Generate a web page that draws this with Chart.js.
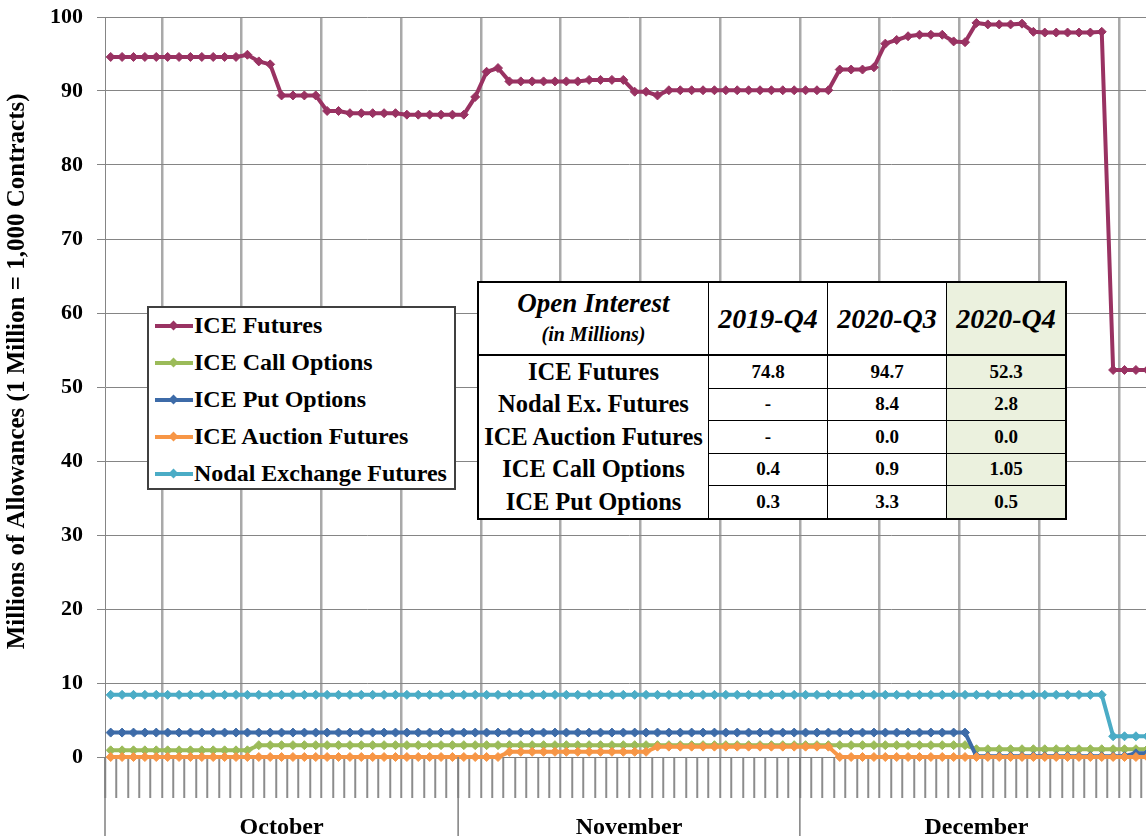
<!DOCTYPE html>
<html>
<head>
<meta charset="utf-8">
<script src="https://cdn.jsdelivr.net/npm/chart.js@4.4.1/dist/chart.umd.min.js"></script>
<style>
  html, body { margin: 0; padding: 0; background: #fff; }
  #wrap { position: relative; width: 1146px; height: 836px; overflow: hidden; }
  #wrap canvas { position: absolute; left: 0; top: 0; }
  #legend {
    position: absolute; left: 147px; top: 306px; width: 305px; height: 180px;
    border: 2px solid #404040; background: #fff;
    font: bold 24px "Liberation Serif", serif; color: #000;
  }
  #legend .item { display: flex; align-items: center; height: 37px; margin-top: -1px; margin-bottom: 1px; }
  #legend .sw { position: relative; width: 38px; height: 4px; margin: 0 1px 0 6px; }
  #legend .sw::after {
    content: ""; position: absolute; left: 15px; top: -2px; width: 7px; height: 7px;
    background: inherit; transform: rotate(45deg);
  }
  #oi {
    position: absolute; left: 477px; top: 281px; border-collapse: collapse;
    background: #fff; border: 2px solid #000; font-family: "Liberation Serif", serif;
    font-weight: bold; color: #000;
  }
  #oi td, #oi th { padding: 0; text-align: center; border-left: 1.5px solid #000; }
  #oi th { height: 71px; border-bottom: 2px solid #000; font-style: italic; font-size: 28px; }
  #oi th.first { width: 229px; font-size: 27px; line-height: 29px; }
  #oi th.first small { font-size: 20px; }
  #oi th.val { width: 118px; }
  #oi td { height: 31.5px; font-size: 19px; border-top: 1px solid #000; }
  #oi td.lab { font-size: 24.5px; border-top: none; }
  #oi tr.r1 td { border-top: none; }
  #oi .q4 { background: #ebf1de; }
</style>
</head>
<body>
<div id="wrap">
  <canvas id="chart" width="1160" height="836"></canvas>
  <div id="legend"></div>
  <table id="oi"></table>
</div>
<script>
// Categories: one per calendar day, Oct 1 - Dec 31
const months = ["October", "November", "December"];
const monthDays = [31, 30, 31];
const monthShort = ["Oct", "Nov", "Dec"];

const seriesNames = ["ICE Futures", "ICE Call Options", "ICE Put Options", "ICE Auction Futures", "Nodal Exchange Futures"];
const seriesColors = ["#993262", "#9bbb59", "#3d6ba8", "#f79646", "#4bacc6"];

// ICE Futures (millions)
const iceFutures = [
  // October
  94.6, 94.6, 94.6, 94.6, 94.6, 94.6, 94.6, 94.6, 94.6, 94.6, 94.6, 94.6, 94.9, 94.0, 93.6, 89.4,
  89.4, 89.4, 89.4, 87.3, 87.3, 87.0, 87.0, 87.0, 87.0, 87.0, 86.8, 86.8, 86.8, 86.8, 86.8,
  // November
  86.8, 89.2, 92.6, 93.1, 91.3, 91.3, 91.3, 91.3, 91.3, 91.3, 91.3, 91.5, 91.5, 91.5, 91.5,
  89.9, 89.9, 89.4, 90.1, 90.1, 90.1, 90.1, 90.1, 90.1, 90.1, 90.1, 90.1, 90.1, 90.1, 90.1,
  // December
  90.1, 90.1, 90.1, 92.9, 92.9, 92.9, 93.2, 96.4, 96.9, 97.4, 97.6, 97.6, 97.6, 96.7, 96.6, 99.2,
  99.0, 99.0, 99.0, 99.1, 98.0, 97.9, 97.9, 97.9, 97.9, 97.9, 98.0, 52.3, 52.3, 52.3, 52.3
];
const iceCall = [
  0.9, 0.9, 0.9, 0.9, 0.9, 0.9, 0.9, 0.9, 0.9, 0.9, 0.9, 0.9, 0.9, 1.6, 1.6, 1.6,
  1.6, 1.6, 1.6, 1.6, 1.6, 1.6, 1.6, 1.6, 1.6, 1.6, 1.6, 1.6, 1.6, 1.6, 1.6,
  1.6, 1.6, 1.6, 1.6, 1.6, 1.6, 1.6, 1.6, 1.6, 1.6, 1.6, 1.6, 1.6, 1.6, 1.6,
  1.6, 1.6, 1.6, 1.6, 1.6, 1.6, 1.6, 1.6, 1.6, 1.6, 1.6, 1.6, 1.6, 1.6, 1.6,
  1.6, 1.6, 1.6, 1.6, 1.6, 1.6, 1.6, 1.6, 1.6, 1.6, 1.6, 1.6, 1.6, 1.6, 1.6, 1.05,
  1.05, 1.05, 1.05, 1.05, 1.05, 1.05, 1.05, 1.05, 1.05, 1.05, 1.05, 1.05, 1.05, 1.05, 1.05
];
const icePut = [
  3.3, 3.3, 3.3, 3.3, 3.3, 3.3, 3.3, 3.3, 3.3, 3.3, 3.3, 3.3, 3.3, 3.3, 3.3, 3.3,
  3.3, 3.3, 3.3, 3.3, 3.3, 3.3, 3.3, 3.3, 3.3, 3.3, 3.3, 3.3, 3.3, 3.3, 3.3,
  3.3, 3.3, 3.3, 3.3, 3.3, 3.3, 3.3, 3.3, 3.3, 3.3, 3.3, 3.3, 3.3, 3.3, 3.3,
  3.3, 3.3, 3.3, 3.3, 3.3, 3.3, 3.3, 3.3, 3.3, 3.3, 3.3, 3.3, 3.3, 3.3, 3.3,
  3.3, 3.3, 3.3, 3.3, 3.3, 3.3, 3.3, 3.3, 3.3, 3.3, 3.3, 3.3, 3.3, 3.3, 3.3, 0.1,
  0.1, 0.1, 0.1, 0.1, 0.1, 0.1, 0.1, 0.1, 0.1, 0.1, 0.1, 0.1, 0.1, 0.5, 0.5
];
const iceAuction = [
  0, 0, 0, 0, 0, 0, 0, 0, 0, 0, 0, 0, 0, 0, 0, 0,
  0, 0, 0, 0, 0, 0, 0, 0, 0, 0, 0, 0, 0, 0, 0,
  0, 0, 0, 0, 0.7, 0.7, 0.7, 0.7, 0.7, 0.7, 0.7, 0.7, 0.7, 0.7, 0.7,
  0.7, 0.7, 1.4, 1.4, 1.4, 1.4, 1.4, 1.4, 1.4, 1.4, 1.4, 1.4, 1.4, 1.4, 1.4,
  1.4, 1.4, 1.4, 0, 0, 0, 0, 0, 0, 0, 0, 0, 0, 0, 0, 0,
  0, 0, 0, 0, 0, 0, 0, 0, 0, 0, 0, 0, 0, 0, 0
];
const nodalFutures = [
  8.4, 8.4, 8.4, 8.4, 8.4, 8.4, 8.4, 8.4, 8.4, 8.4, 8.4, 8.4, 8.4, 8.4, 8.4, 8.4,
  8.4, 8.4, 8.4, 8.4, 8.4, 8.4, 8.4, 8.4, 8.4, 8.4, 8.4, 8.4, 8.4, 8.4, 8.4,
  8.4, 8.4, 8.4, 8.4, 8.4, 8.4, 8.4, 8.4, 8.4, 8.4, 8.4, 8.4, 8.4, 8.4, 8.4,
  8.4, 8.4, 8.4, 8.4, 8.4, 8.4, 8.4, 8.4, 8.4, 8.4, 8.4, 8.4, 8.4, 8.4, 8.4,
  8.4, 8.4, 8.4, 8.4, 8.4, 8.4, 8.4, 8.4, 8.4, 8.4, 8.4, 8.4, 8.4, 8.4, 8.4, 8.4,
  8.4, 8.4, 8.4, 8.4, 8.4, 8.4, 8.4, 8.4, 8.4, 8.4, 8.4, 2.8, 2.8, 2.8, 2.8
];

// Table in the middle of the chart
const tableTitle = "Open Interest";
const tableSubtitle = "(in Millions)";
const tableCols = ["2019-Q4", "2020-Q3", "2020-Q4"];
const tableRows = ["ICE Futures", "Nodal Ex. Futures", "ICE Auction Futures", "ICE Call Options", "ICE Put Options"];
const q4_2019 = ["74.8", "-", "-", "0.4", "0.3"];
const q3_2020 = ["94.7", "8.4", "0.0", "0.9", "3.3"];
const q4_2020 = ["52.3", "2.8", "0.0", "1.05", "0.5"];

const yTitle = "Millions of Allowances (1 Million = 1,000 Contracts)";

// day labels
let dayLabels = [];
months.forEach((m, k) => {
  for (let d = 1; d <= monthDays[k]; d++) dayLabels.push(monthShort[k] + " " + d);
});

// legend
let legend = document.getElementById("legend");
seriesNames.forEach((name, i) => {
  let item = document.createElement("div");
  item.className = "item";
  item.innerHTML = '<span class="sw" style="background:' + seriesColors[i] + '"></span>' + name;
  legend.appendChild(item);
});

// table
let table = document.getElementById("oi");
let head = '<tr><th class="first">' + tableTitle + '<br><small>' + tableSubtitle + '</small></th>';
tableCols.forEach((c, j) => {
  head += '<th class="val' + (j === 2 ? " q4" : "") + '">' + c + "</th>";
});
table.innerHTML = head + "</tr>";
tableRows.forEach((r, i) => {
  let tr = document.createElement("tr");
  tr.className = "r" + (i + 1);
  tr.innerHTML = '<td class="lab">' + r + "</td><td>" + q4_2019[i] + "</td><td>" + q3_2020[i] +
    '</td><td class="q4">' + q4_2020[i] + "</td>";
  table.appendChild(tr);
});

const serif = "'Liberation Serif', 'Times New Roman', serif";

// month names and long separators under the axis
const monthMarks = {
  id: "monthMarks",
  afterDraw(chart) {
    let x = chart.scales.x;
    let ctx = chart.ctx;
    let step = x.getPixelForValue(1) - x.getPixelForValue(0);
    let start = 0;
    ctx.save();
    ctx.strokeStyle = "#7f7f7f";
    ctx.lineWidth = 1.5;
    ctx.fillStyle = "#000";
    ctx.font = "bold 24px " + serif;
    ctx.textAlign = "center";
    ctx.textBaseline = "middle";
    months.forEach((m, k) => {
      let left = x.getPixelForValue(start) - step / 2;
      let right = left + monthDays[k] * step;
      ctx.beginPath();
      ctx.moveTo(left, x.top);
      ctx.lineTo(left, chart.height);
      ctx.stroke();
      ctx.fillText(m, (left + right) / 2, x.top + 71);
      start += monthDays[k];
    });
    ctx.restore();
  },
};

const makeSet = (label, data, color, order) => ({
  label: label,
  data: data,
  borderColor: color,
  backgroundColor: color,
  borderWidth: 4,
  pointStyle: "rectRot",
  pointRadius: 4.5,
  pointBorderWidth: 1,
  pointBackgroundColor: color,
  pointBorderColor: color,
  tension: 0,
  clip: false, // series sitting on 0 are drawn whole, as in the original
  order: order,
});

let chart = new Chart(document.getElementById("chart"), {
  type: "line",
  data: {
    labels: dayLabels,
    datasets: [
      makeSet(seriesNames[0], iceFutures, seriesColors[0], 5),
      makeSet(seriesNames[1], iceCall, seriesColors[1], 4),
      makeSet(seriesNames[2], icePut, seriesColors[2], 3),
      makeSet(seriesNames[3], iceAuction, seriesColors[3], 2),
      makeSet(seriesNames[4], nodalFutures, seriesColors[4], 1),
    ],
  },
  options: {
    responsive: false,
    animation: false,
    layout: { padding: { top: 17, right: 7, left: 0, bottom: 0 } },
    plugins: { legend: { display: false }, tooltip: { enabled: false } },
    scales: {
      x: {
        type: "category",
        offset: true,
        afterFit: (scale) => { scale.height = 79; },
        grid: {
          offset: true,
          color: (c) => (c.index % 7 === 5 ? "#a9a9a9" : "rgba(0,0,0,0)"),
          lineWidth: 2.5,
          tickColor: "#8c8c8c",
          tickWidth: 2,
          tickLength: 41,
        },
        border: { color: "#7f7f7f", width: 1 },
        ticks: { autoSkip: false, maxRotation: 0, callback: () => "" },
      },
      y: {
        min: 0,
        max: 100,
        afterFit: (scale) => {
          scale.width = 105;
          // the "100" label may overhang the top; don't push the plot down
          scale.paddingTop = 0;
          scale.paddingBottom = 0;
        },
        ticks: {
          stepSize: 10,
          padding: 14,
          color: "#000",
          font: { family: serif, size: 22, weight: "bold" },
        },
        grid: { color: "#858585", lineWidth: 1, tickLength: 8 },
        border: { color: "#858585", width: 1 },
        title: {
          display: true,
          text: "     " + yTitle,
          color: "#000",
          padding: { top: 3, bottom: 0 },
          font: { family: serif, size: 25, weight: "bold" },
        },
      },
    },
  },
  plugins: [monthMarks],
});
</script>
</body>
</html>
